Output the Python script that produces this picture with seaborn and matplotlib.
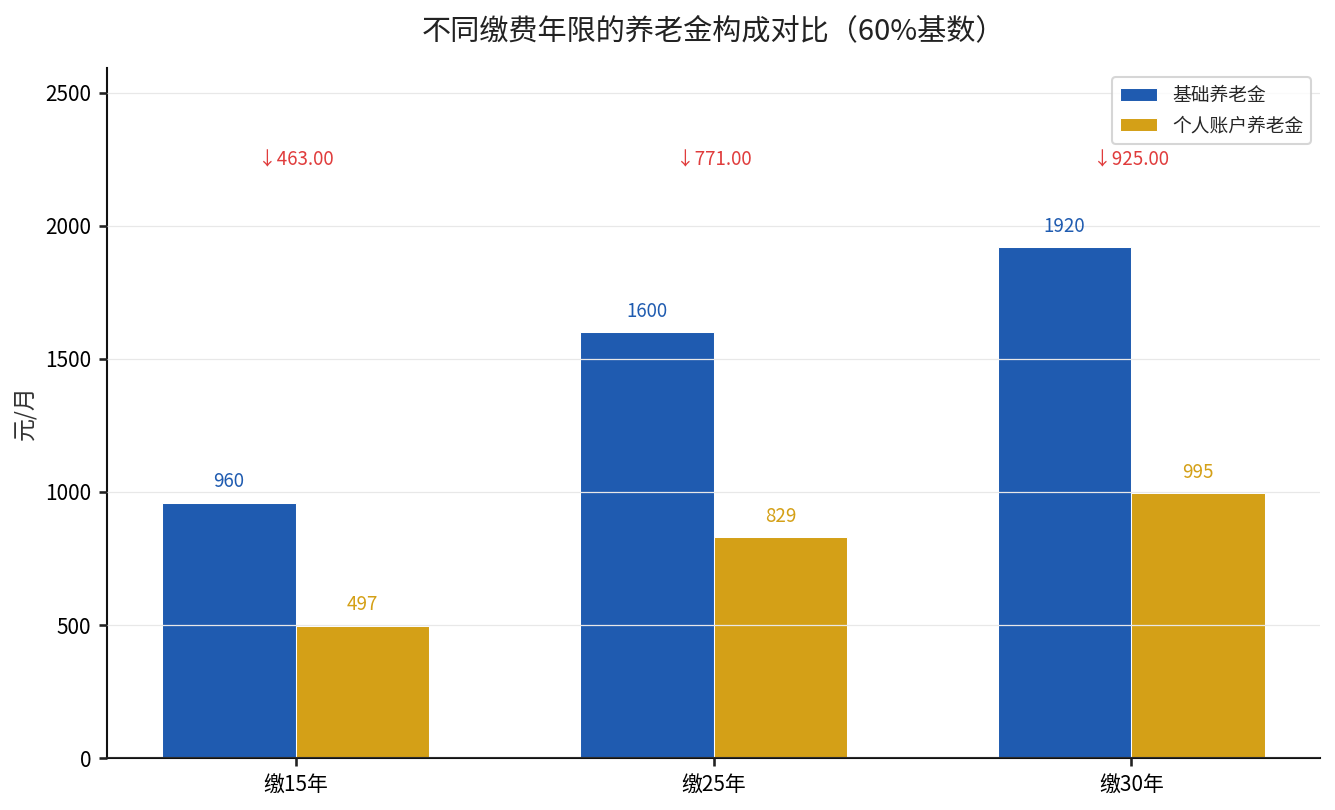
import pandas as pd
import matplotlib.pyplot as plt
import seaborn as sns

# 数据
years = ["缴15年", "缴25年", "缴30年"]
basic = [960, 1600, 1920]
personal = [497, 829, 995]
series_names = ["基础养老金", "个人账户养老金"]
colors = ["#1f5bb0", "#d4a017"]

df = pd.DataFrame({
    "年限": years * 2,
    "类型": [series_names[0]] * 3 + [series_names[1]] * 3,
    "金额": basic + personal,
})

sns.set_theme(style="white")
plt.rcParams["font.family"] = ["Noto Sans CJK SC", "DejaVu Sans"]
plt.rcParams["axes.unicode_minus"] = False

fig, ax = plt.subplots(figsize=(8.9, 5.4), dpi=150)
fig.subplots_adjust(left=0.080, right=0.989, top=0.916, bottom=0.064)
sns.barplot(data=df, x="年限", y="金额", hue="类型", palette=colors, saturation=1,
            width=0.64, gap=0, edgecolor="white", linewidth=0.5, ax=ax)

# 数值标签
for cont, col in zip(ax.containers, colors):
    ax.bar_label(cont, fmt="%d", padding=5, color=col, fontsize=9)

# 差额标注
top = max(basic) * 1.35
for i, (b, p) in enumerate(zip(basic, personal)):
    ax.text(i, max(basic) * 1.17, f"↓{b - p:.2f}", ha="center", va="center",
            color="#e03c3c", fontsize=9)

ax.set_xlim(-0.452, len(years) - 1 + 0.452)
ax.set_ylim(0, top)
ax.set_yticks([0, 500, 1000, 1500, 2000, 2500])
ax.set_axisbelow(False)
ax.yaxis.grid(True, color="#e8e8e8", linewidth=0.6)
ax.set_xlabel("")
ax.set_ylabel("元/月", fontsize=11, color="#333333")
ax.set_title("不同缴费年限的养老金构成对比（60%基数）", fontsize=14, color="#222222", pad=14)
ax.tick_params(axis="both", labelsize=10, labelcolor="black", length=4,
               color="#222222", left=True, bottom=True)
sns.despine(ax=ax)
for s in ["left", "bottom"]:
    ax.spines[s].set_color("#111111")
    ax.spines[s].set_linewidth(1.0)

ax.legend(loc="upper right", fontsize=9, frameon=True, title=None)

plt.savefig("out.png", dpi=150)
